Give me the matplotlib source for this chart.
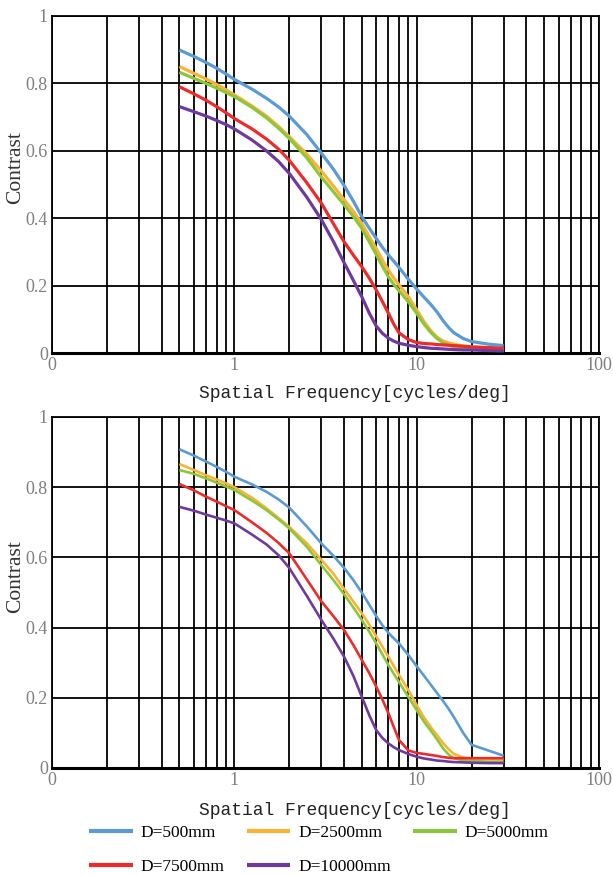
import numpy as np
import matplotlib
matplotlib.use("Agg")
import matplotlib.pyplot as plt
from matplotlib.ticker import FixedLocator, NullFormatter, FixedFormatter

# spatial frequency samples (cycles/deg)
freq = [0.5, 0.6, 0.7, 0.8, 0.9, 1, 1.25, 1.5, 1.75, 2, 2.5, 3, 3.5, 4, 4.5, 5, 5.5,
        6, 6.5, 7, 7.5, 8, 9, 10, 11, 12, 13, 14, 15, 16, 18, 20, 25, 30]

labels = ["D=500mm", "D=2500mm", "D=5000mm", "D=7500mm", "D=10000mm"]
colors = ["#5B9BD5", "#FBB431", "#8CC63F", "#EE2B2B", "#6F3AA0"]

# upper panel
top_d500 = [0.899, 0.880, 0.862, 0.845, 0.828, 0.812, 0.783, 0.756, 0.730, 0.703, 0.648, 0.593,
            0.545, 0.497, 0.450, 0.405, 0.370, 0.340, 0.313, 0.291, 0.272, 0.254, 0.219, 0.190,
            0.165, 0.143, 0.120, 0.095, 0.075, 0.060, 0.043, 0.034, 0.026, 0.022]
top_d2500 = [0.850, 0.830, 0.813, 0.797, 0.781, 0.766, 0.733, 0.703, 0.672, 0.642, 0.590, 0.540,
             0.495, 0.455, 0.420, 0.385, 0.345, 0.310, 0.275, 0.246, 0.222, 0.202, 0.167, 0.128,
             0.092, 0.065, 0.046, 0.035, 0.030, 0.026, 0.021, 0.018, 0.015, 0.013]
top_d5000 = [0.833, 0.815, 0.800, 0.786, 0.773, 0.761, 0.729, 0.698, 0.667, 0.637, 0.579, 0.522,
             0.478, 0.440, 0.405, 0.370, 0.330, 0.292, 0.257, 0.226, 0.203, 0.185, 0.152, 0.118,
             0.085, 0.060, 0.042, 0.030, 0.023, 0.019, 0.015, 0.013, 0.010, 0.008]
top_d7500 = [0.790, 0.769, 0.750, 0.731, 0.713, 0.696, 0.665, 0.635, 0.605, 0.572, 0.505, 0.445,
             0.383, 0.330, 0.290, 0.256, 0.222, 0.187, 0.152, 0.118, 0.085, 0.060, 0.040, 0.031,
             0.028, 0.027, 0.025, 0.024, 0.023, 0.022, 0.020, 0.018, 0.016, 0.014]
top_d10000 = [0.731, 0.716, 0.703, 0.690, 0.678, 0.665, 0.632, 0.600, 0.568, 0.533, 0.462, 0.396,
              0.330, 0.268, 0.215, 0.167, 0.118, 0.080, 0.058, 0.044, 0.035, 0.029, 0.023, 0.019,
              0.016, 0.014, 0.013, 0.012, 0.011, 0.010, 0.009, 0.009, 0.007, 0.006]

# lower panel
bot_d500 = [0.908, 0.890, 0.873, 0.858, 0.844, 0.830, 0.808, 0.787, 0.765, 0.742, 0.688, 0.640,
            0.604, 0.570, 0.535, 0.500, 0.465, 0.433, 0.406, 0.385, 0.369, 0.355, 0.322, 0.290,
            0.262, 0.236, 0.212, 0.190, 0.168, 0.145, 0.100, 0.066, 0.049, 0.035]
bot_d2500 = [0.866, 0.849, 0.834, 0.822, 0.811, 0.800, 0.770, 0.740, 0.712, 0.687, 0.640, 0.593,
             0.553, 0.510, 0.474, 0.441, 0.408, 0.375, 0.345, 0.317, 0.290, 0.265, 0.222, 0.179,
             0.143, 0.115, 0.092, 0.070, 0.053, 0.040, 0.030, 0.027, 0.026, 0.025]
bot_d5000 = [0.849, 0.838, 0.825, 0.813, 0.802, 0.792, 0.762, 0.735, 0.708, 0.683, 0.630, 0.578,
             0.535, 0.495, 0.457, 0.422, 0.388, 0.355, 0.323, 0.293, 0.268, 0.245, 0.203, 0.165,
             0.131, 0.105, 0.080, 0.055, 0.038, 0.028, 0.022, 0.020, 0.018, 0.018]
bot_d7500 = [0.809, 0.791, 0.773, 0.759, 0.746, 0.735, 0.700, 0.670, 0.641, 0.612, 0.537, 0.475,
             0.432, 0.393, 0.350, 0.308, 0.270, 0.232, 0.194, 0.156, 0.116, 0.080, 0.050, 0.043,
             0.040, 0.037, 0.034, 0.031, 0.029, 0.028, 0.028, 0.028, 0.028, 0.028]
bot_d10000 = [0.744, 0.733, 0.722, 0.713, 0.705, 0.697, 0.665, 0.637, 0.606, 0.570, 0.490, 0.422,
              0.368, 0.317, 0.262, 0.203, 0.150, 0.108, 0.085, 0.070, 0.059, 0.051, 0.040, 0.032,
              0.027, 0.024, 0.021, 0.020, 0.018, 0.017, 0.016, 0.015, 0.014, 0.014]

top_series = [top_d500, top_d2500, top_d5000, top_d7500, top_d10000]
bot_series = [bot_d500, bot_d2500, bot_d5000, bot_d7500, bot_d10000]

xticks = [0.1, 1, 10, 100]
xticklabels = ["0", "1", "10", "100"]
yticks = [0, 0.2, 0.4, 0.6, 0.8, 1]
yticklabels = ["0", "0.2", "0.4", "0.6", "0.8", "1"]

TICK_FONT = "Liberation Serif"
LABEL_FONT = "Liberation Mono"
GRAY = "#7f7f7f"

fig = plt.figure(figsize=(6.13, 8.75), dpi=100)
W, H = 613, 875


def make_axes(left, top, right, bottom):
    return fig.add_axes([left / W, 1 - bottom / H, (right - left) / W, (bottom - top) / H])


def style_axes(ax, series, lw):
    ax.set_xscale("log")
    ax.set_xlim(0.1, 100)
    ax.set_ylim(0, 1)

    minors = [m * 10.0 ** e for e in (-1, 0, 1) for m in range(2, 10)]
    ax.xaxis.set_major_locator(FixedLocator(xticks))
    ax.xaxis.set_major_formatter(FixedFormatter(xticklabels))
    ax.xaxis.set_minor_locator(FixedLocator(minors))
    ax.xaxis.set_minor_formatter(NullFormatter())
    ax.set_yticks(yticks)
    ax.set_yticklabels(yticklabels)

    ax.grid(True, which="both", axis="x", color="black", linewidth=1.3)
    ax.grid(True, which="major", axis="y", color="black", linewidth=1.3)
    ax.set_axisbelow(True)
    ax.tick_params(which="both", length=0, labelcolor=GRAY, labelsize=13)
    ax.tick_params(axis="x", pad=3)
    ax.tick_params(axis="y", pad=3)
    for lab in ax.get_xticklabels() + ax.get_yticklabels():
        lab.set_fontfamily(TICK_FONT)

    for sp in ax.spines.values():
        sp.set_color("black")
        sp.set_linewidth(1.3)
    ax.spines["bottom"].set_linewidth(2.2)

    lines = []
    for vals, c, lab in zip(series, colors, labels):
        ln, = ax.plot(freq, vals, color=c, linewidth=lw, label=lab,
                      solid_joinstyle="round", solid_capstyle="butt", zorder=3)
        lines.append(ln)

    ax.set_xlabel("Spatial Frequency[cycles/deg]", fontfamily=LABEL_FONT,
                  fontsize=13, color="#222222")
    ax.set_ylabel("Contrast", fontfamily=TICK_FONT, fontsize=15.5, color="#333333")
    return lines


ax_top = make_axes(52, 16, 599, 353)
lines = style_axes(ax_top, top_series, 2.3)
ax_top.xaxis.set_label_coords((355 - 52) / 547, -0.095)
ax_top.yaxis.set_label_coords(-0.05, 0.55)

ax_bot = make_axes(52, 417, 599, 768)
style_axes(ax_bot, bot_series, 1.9)
ax_bot.xaxis.set_label_coords((355 - 52) / 547, -0.097)
ax_bot.yaxis.set_label_coords(-0.05, 0.545)

# legend, filled row by row
order = [0, 3, 1, 4, 2]
fig.legend([lines[i] for i in order], [labels[i] for i in order],
           loc="upper center", bbox_to_anchor=(0.52, 1 - 809 / H), ncol=3,
           frameon=False, handlelength=2.5, handletextpad=0.45,
           columnspacing=1.3, labelspacing=1.05,
           prop={"family": TICK_FONT, "size": 12.5})
for lh in fig.legends[0].get_lines():
    lh.set_linewidth(3)

fig.savefig("out.png", dpi=100)
